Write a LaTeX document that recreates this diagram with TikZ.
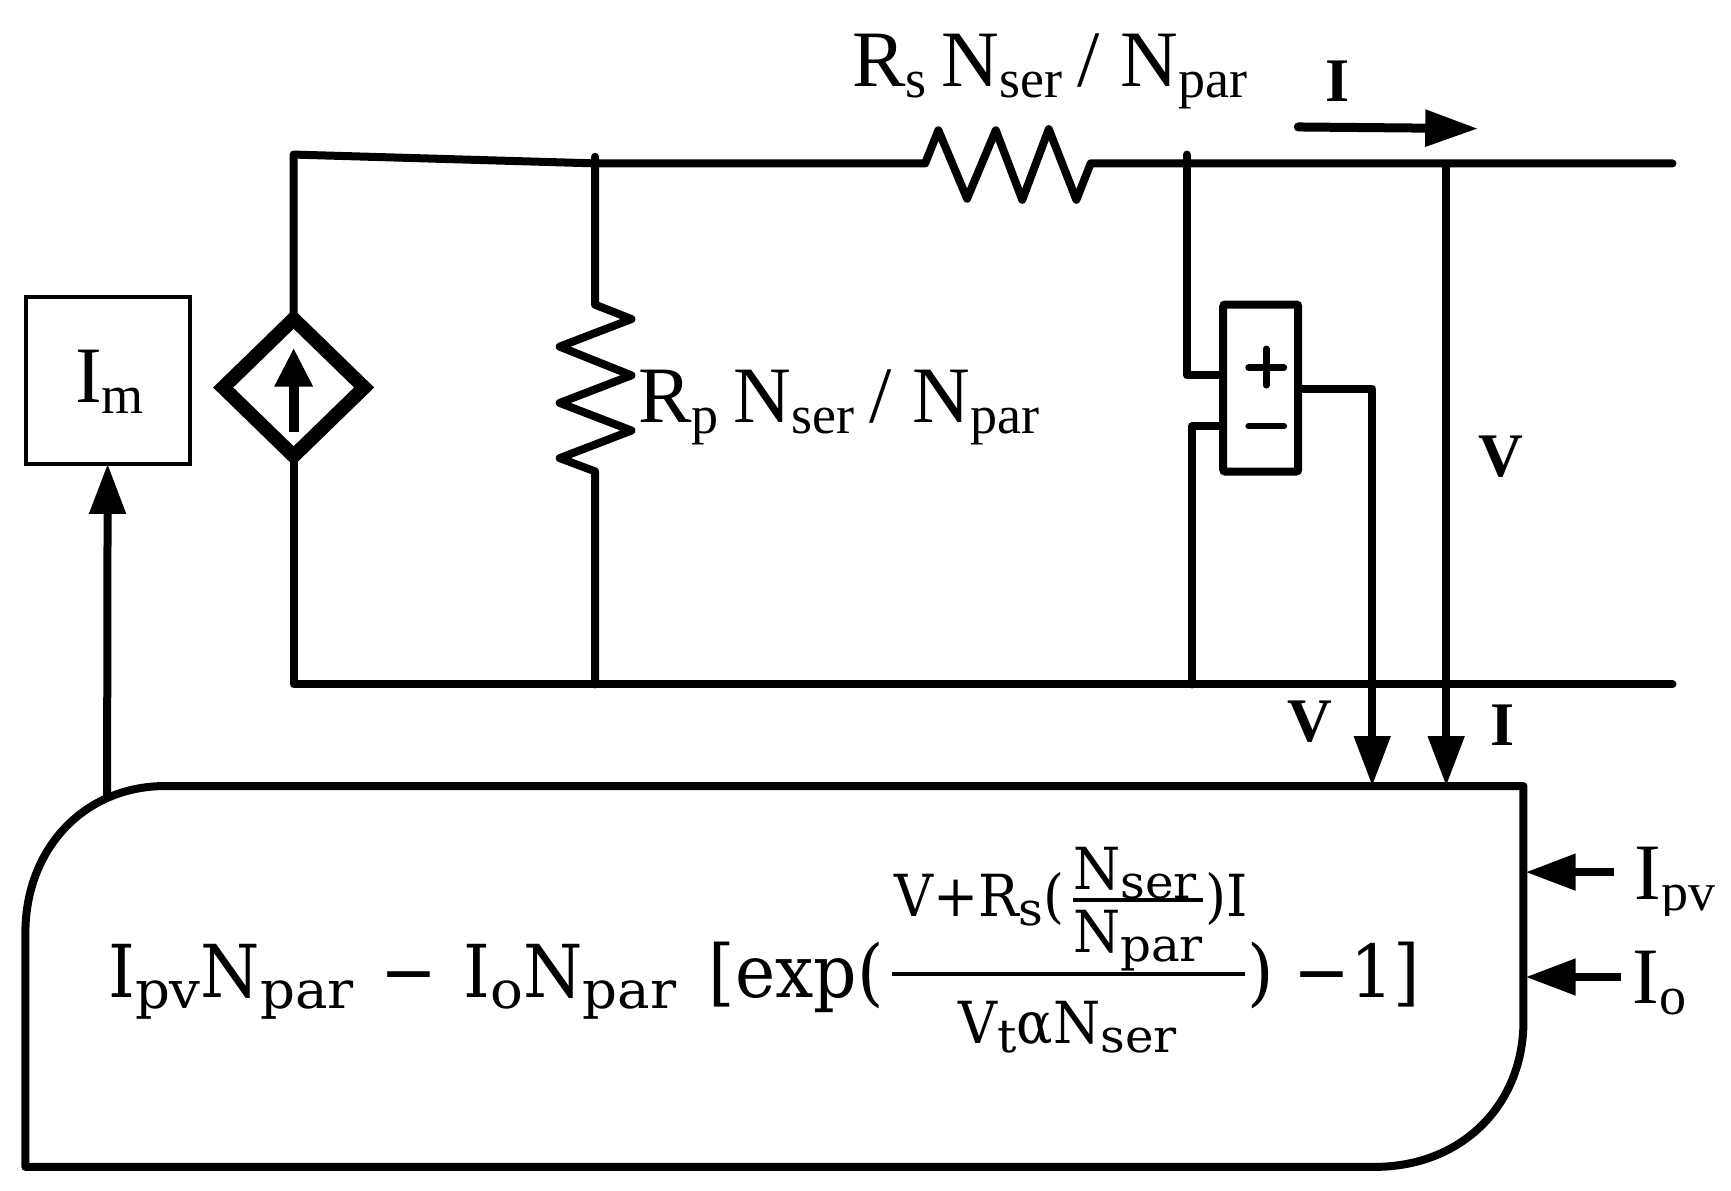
\documentclass[tikz,border=0pt]{standalone}
\usepackage{fontspec}
\usetikzlibrary{arrows.meta,shapes.geometric}
\newfontfamily\tnr{Liberation Serif}
\newfontfamily\eqf[FakeStretch=0.93]{DejaVu Serif}
\newfontfamily\eqw[FakeStretch=1.05]{DejaVu Serif}
\newcommand{\fsz}[1]{\fontsize{#1pt}{#1pt}\selectfont}
\newcommand{\sep}{\hspace{15pt}}
\newcommand{\sepb}{\hspace{21pt}}
% label subscript (Times)
\newcommand{\lsub}[1]{\raisebox{-11pt}{\fsz{54}#1}}
% equation subscripts
\newcommand{\esub}[1]{\raisebox{-11pt}{\eqw\fsz{52}#1}}
\newcommand{\fsub}[1]{\raisebox{-9pt}{\eqw\fsz{46}#1}}
\tikzset{
  wire/.style={line width=8pt,line join=round,line cap=round},
  sig/.style={line width=8pt,-{Triangle[length=50pt,width=35pt]}},
  txt/.style={inner sep=0pt,outer sep=0pt,anchor=base west},
  lab/.style={txt,font=\tnr\fsz{80}},
  blab/.style={txt,font=\tnr\bfseries\fsz{62}},
  eqn/.style={txt,font=\eqf\fsz{73}},
  eqs/.style={txt,font=\eqf\fsz{58}},
  rule/.style={line width=4pt}
}
\begin{document}
\begin{tikzpicture}[x=1.104pt,y=-1.104pt]
\useasboundingbox (0,0) rectangle (1568,1078);
% coordinates
\coordinate (tl) at (266,140);
\coordinate (bl) at (266,620);
\coordinate (j1) at (539,148);
\coordinate (j1b) at (539,620);
\coordinate (tr) at (1515,148);
\coordinate (br) at (1515,620);
\coordinate (js) at (1075,148);
\coordinate (jv) at (1310,148);
\coordinate (jm) at (1080,620);
\coordinate (vin) at (1243,712);
\coordinate (iin) at (1310,712);
\coordinate (imfrom) at (97,722);
% source
\node[diamond,draw,line width=14pt,miter limit=10,minimum width=141pt,minimum height=137pt,inner sep=0pt,outer sep=0pt,aspect=1] (src) at (266,351) {};
\coordinate (srcb) at (266,391);
\coordinate (srct) at (266,315);
\draw[line width=10pt,-{Triangle[length=39pt,width=36pt]}] (srcb) -- (srct);
% wires
\draw[wire] (src.north) -- (tl) -- (j1) -- (838,148) -- (850,118) -- (876,180) -- (902,118) -- (926,181) -- (950,117) -- (975,181) -- (988,148) -- (tr);
\draw[wire] (src.south) -- (bl) -- (br);
\draw[wire] (539,142) -- (539,276) -- (572,289) -- (507,314) -- (572,340) -- (507,365) -- (572,390) -- (507,415) -- (539,427) -- (j1b);
% voltage box
\node[draw,line width=8pt,rounded corners=2pt,minimum width=75pt,minimum height=167pt,inner sep=0pt,outer sep=0pt] (volt) at (1142,351.5) {};
\draw[wire] (1075,140) -- (1075,340) -- (1108,340);
\draw[wire] (1108,386) -- (1080,386) -- (jm);
\draw[line width=8pt,line join=round] (1176,352) -- (1243,352) -- (1243,680);
\draw[sig] (1243,640) -- (vin);
\draw[sig] (jv) -- (iin);
\draw[line width=6.5pt,line cap=round] (1131,333) -- (1163,333);
\draw[line width=6.5pt,line cap=round] (1147,316) -- (1147,349);
\draw[line width=6.5pt,line cap=round] (1131,386) -- (1163,386);
% current arrow
\draw[line width=9pt,line cap=round,-{Triangle[length=53pt,width=35pt]}] (1176,115) -- (1339,116.5);
% Im box
\node[draw,line width=4pt,minimum width=164pt,minimum height=167pt,inner sep=0pt,outer sep=0pt] (im) at (97.5,344.5) {};
\node[lab] (imt) at (68,365) {I\lsub{m}};
% block
\draw[line width=8pt,line join=round] (150,712) -- (1380,712) -- (1380,925) .. controls (1380,1000) and (1325,1057) .. (1245,1057) -- (23,1057) -- (23,845) .. controls (23,770) and (75,712) .. (150,712) -- cycle;
\draw[sig] (imfrom) -- (im.south);
% input arrows
\coordinate (ipvs) at (1462,790);
\coordinate (ipve) at (1382,790);
\coordinate (ios) at (1468,885);
\coordinate (ioe) at (1382,885);
\draw[sig] (ipvs) -- (ipve);
\draw[sig] (ios) -- (ioe);
\begin{scope}
\clip (1470,740) rectangle (1568,829);
\node[lab] (ipvt) at (1481,815) {I\lsub{pv}};
\end{scope}
\node[lab] (iot) at (1479,909) {I\lsub{o}};
% labels
\node[lab] (rs) at (772,78) {R\lsub{s}\sep N\lsub{ser}\sep /\sepb N\lsub{par}};
\node[lab] (rp) at (578,383) {R\lsub{p}\sep N\lsub{ser}\sep /\sepb N\lsub{par}};
\node[blab] (il1) at (1201,92) {I};
\node[blab] (vl1) at (1339,432) {V};
\node[blab] (vl2) at (1166,672) {V};
\node[blab] (il2) at (1350,675) {I};
% equation
\node[eqn] (e1) at (98,904) {I\esub{pv}N\esub{par}};
\node[eqn] (e2) at (345,904) {−};
\node[eqn] (e3) at (420,904) {I\esub{o}N\esub{par}};
\node[eqn] (e4) at (642,904) {[exp(};
\node[eqn] (e5) at (1130,904) {)};
\node[eqn] (e6) at (1172,904) {−1]};
\coordinate (fl) at (808,882);
\coordinate (fr) at (1128,882);
\draw[rule] (fl) -- (fr);
\node[eqs] (n1) at (810,830) {V+R\fsub{s}(};
\node[eqs] (n2) at (1092,830) {)I};
\node[eqs] (n3) at (972,806) {N\fsub{ser}};
\node[eqs] (n4) at (972,863) {N\fsub{par}};
\coordinate (gl) at (972,815);
\coordinate (gr) at (1090,815);
\draw[rule] (gl) -- (gr);
\node[eqs] (d1) at (868,945) {V\fsub{t}{α}N\fsub{ser}};
\end{tikzpicture}
\end{document}
